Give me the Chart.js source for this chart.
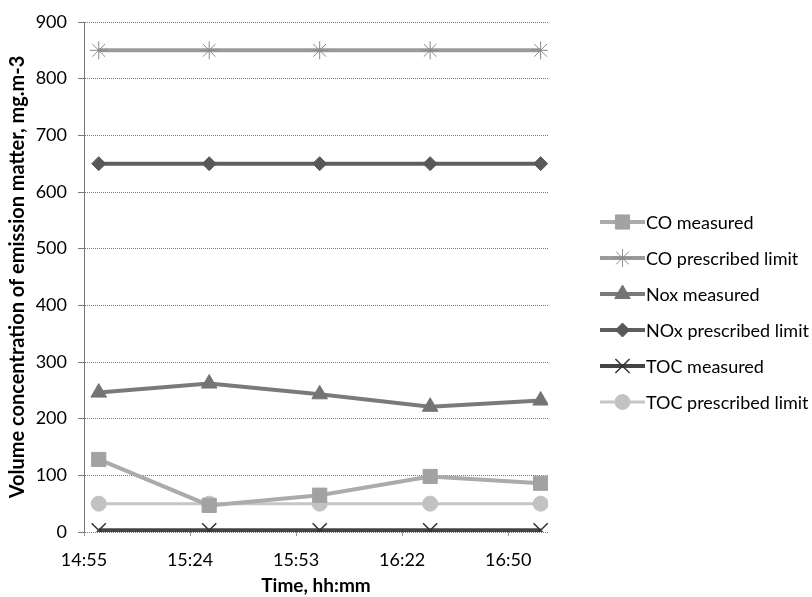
<!DOCTYPE html>
<html>
<head>
<meta charset="utf-8">
<script src="https://cdn.jsdelivr.net/npm/chart.js@4.4.1/dist/chart.umd.min.js"></script>
<style>
  html, body { margin: 0; padding: 0; background: #fff; }
  #wrap { width: 812px; height: 597px; }
</style>
</head>
<body>
<div id="wrap"><canvas id="emChart" width="812" height="597"></canvas></div>
<script>
// sample times (hh:mm) and measured / limit values, mg.m-3
const sampleTimes = ['14:59', '15:29', '15:59', '16:29', '16:59'];
const coMeasured = [128, 47, 65, 98, 86];
const coLimit = [850, 850, 850, 850, 850];
const noxMeasured = [246, 262, 243, 221, 232];
const noxLimit = [650, 650, 650, 650, 650];
const tocMeasured = [3, 3, 3, 3, 3];
const tocLimit = [50, 50, 50, 50, 50];

// x axis ticks (excel date axis, major unit 0.02 day)
const xTickLabels = ['14:55', '15:24', '15:53', '16:22', '16:50'];
const xTickMinutes = [895, 923.8, 952.6, 981.4, 1010.2];

const toMin = t => { const p = t.split(':'); return +p[0] * 60 + +p[1]; };
const pts = arr => sampleTimes.map((t, i) => ({ x: toMin(t), y: arr[i] }));

const FONT = 'Lato, "Open Sans", sans-serif';

// line + marker legend drawn at the right, like the excel one
const sideLegend = {
    id: 'sideLegend',
    afterDraw(chart) {
        const ctx = chart.ctx;
        const x0 = 600, x1 = 645, y0 = 222, step = 36;
        ctx.save();
        chart.data.datasets.forEach((ds, i) => {
            const y = y0 + i * step;
            ctx.strokeStyle = ds.borderColor;
            ctx.lineWidth = ds.borderWidth;
            ctx.beginPath();
            ctx.moveTo(x0, y);
            ctx.lineTo(x1, y);
            ctx.stroke();
            ctx.fillStyle = ds.pointBackgroundColor;
            ctx.strokeStyle = ds.pointBorderColor;
            ctx.lineWidth = ds.pointBorderWidth;
            Chart.helpers.drawPoint(ctx, {
                pointStyle: ds.pointStyle,
                radius: ds.pointRadius,
                rotation: 0,
                borderWidth: ds.pointBorderWidth
            }, (x0 + x1) / 2, y);
            ctx.fillStyle = '#000';
            ctx.font = '18px ' + FONT;
            ctx.textBaseline = 'middle';
            ctx.textAlign = 'left';
            ctx.fillText(ds.label, x1 + 1, y + 1);
        });
        ctx.restore();
    }
};

new Chart(document.getElementById('emChart').getContext('2d'), {
    type: 'line',
    data: {
        datasets: [{
            label: 'CO measured',
            data: pts(coMeasured),
            borderColor: '#ababab',
            borderWidth: 4,
            pointStyle: 'rect',
            pointRadius: 10,
            pointBackgroundColor: '#a2a2a2',
            pointBorderColor: '#a2a2a2',
            pointBorderWidth: 1
        }, {
            label: 'CO prescribed limit',
            data: pts(coLimit),
            borderColor: '#9a9a9a',
            borderWidth: 4,
            pointStyle: 'star',
            pointRadius: 9,
            pointBackgroundColor: '#8a8a8a',
            pointBorderColor: '#8a8a8a',
            pointBorderWidth: 1
        }, {
            label: 'Nox measured',
            data: pts(noxMeasured),
            borderColor: '#7a7a7a',
            borderWidth: 4,
            pointStyle: 'triangle',
            pointRadius: 9,
            pointBackgroundColor: '#747474',
            pointBorderColor: '#747474',
            pointBorderWidth: 1
        }, {
            label: 'NOx prescribed limit',
            data: pts(noxLimit),
            borderColor: '#5e5e5e',
            borderWidth: 4,
            pointStyle: 'rectRot',
            pointRadius: 7,
            pointBackgroundColor: '#585858',
            pointBorderColor: '#585858',
            pointBorderWidth: 1
        }, {
            label: 'TOC measured',
            data: pts(tocMeasured),
            borderColor: '#444444',
            borderWidth: 4,
            pointStyle: 'crossRot',
            pointRadius: 10,
            pointBackgroundColor: '#333333',
            pointBorderColor: '#333333',
            pointBorderWidth: 1.5
        }, {
            label: 'TOC prescribed limit',
            data: pts(tocLimit),
            borderColor: '#c6c6c6',
            borderWidth: 3,
            pointStyle: 'circle',
            pointRadius: 7.5,
            pointBackgroundColor: '#c2c2c2',
            pointBorderColor: '#c2c2c2',
            pointBorderWidth: 1
        }]
    },
    options: {
        responsive: false,
        animation: false,
        layout: { padding: { left: 0, top: 22, right: 264, bottom: 0 } },
        plugins: {
            legend: { display: false },
            tooltip: { enabled: false }
        },
        elements: { line: { tension: 0 } },
        scales: {
            x: {
                type: 'linear',
                min: 895,
                max: 1021,
                afterBuildTicks: s => { s.ticks = xTickMinutes.map(v => ({ value: v })); },
                afterFit: s => { s.height = 65; },
                ticks: {
                    autoSkip: false,
                    maxRotation: 0,
                    padding: 13,
                    color: '#000',
                    font: { family: FONT, size: 18 },
                    callback: (v, i) => xTickLabels[i]
                },
                grid: {
                    drawOnChartArea: false,
                    tickLength: 4,
                    color: '#999'
                },
                border: { display: false },
                title: {
                    display: true,
                    text: 'Time, hh:mm',
                    color: '#000',
                    font: { family: FONT, size: 19, weight: 'bold' },
                    padding: { top: 0, bottom: 0 }
                }
            },
            y: {
                min: 0,
                max: 900,
                afterFit: s => { s.width = 84; },
                ticks: {
                    stepSize: 100,
                    padding: 11,
                    color: '#000',
                    font: { family: FONT, size: 18 }
                },
                grid: {
                    color: '#7a7a7a',
                    lineWidth: 1,
                    tickLength: 6
                },
                // v4: border.dash also dashes the grid lines (dotted look)
                border: { display: true, color: '#7a7a7a', dash: [1, 1] },
                title: {
                    display: true,
                    text: 'Volume concentration of emission matter, mg.m-3',
                    color: '#000',
                    font: { family: FONT, size: 20, weight: 'bold' },
                    padding: { top: 6, bottom: 0 }
                }
            }
        }
    },
    plugins: [sideLegend]
});
</script>
</body>
</html>
